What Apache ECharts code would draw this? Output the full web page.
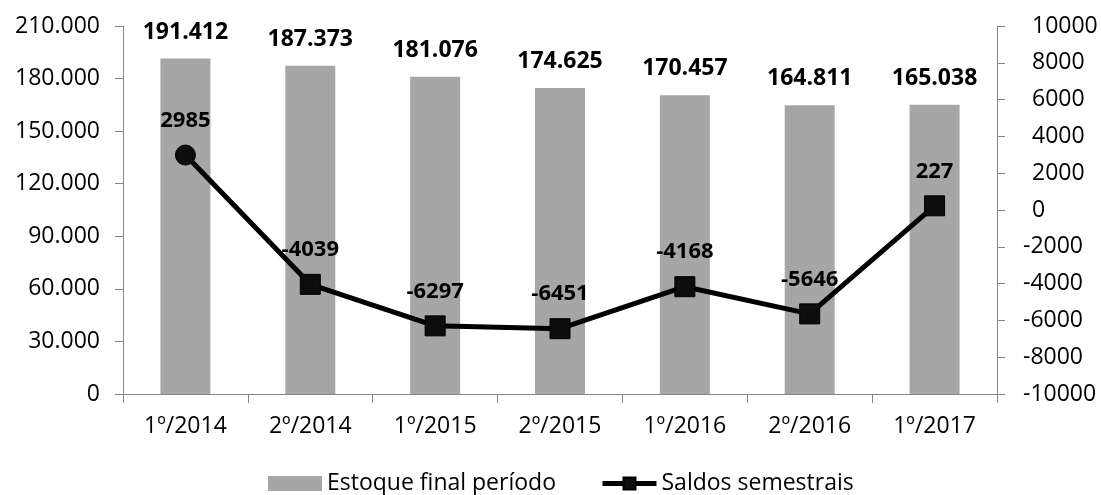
<!DOCTYPE html>
<html>
<head>
<meta charset="utf-8">
<script src="https://cdn.jsdelivr.net/npm/echarts@6/dist/echarts.min.js"></script>
<style>
html,body{margin:0;padding:0;background:#fff;}
#chart{width:1101px;height:495px;}
</style>
</head>
<body>
<div id="chart"></div>
<script>
var categories = ['1º/2014','2º/2014','1º/2015','2º/2015','1º/2016','2º/2016','1º/2017'];
var estoque = [191412, 187373, 181076, 174625, 170457, 164811, 165038];
var saldos = [2985, -4039, -6297, -6451, -4168, -5646, 227];
var leftTicks = {min: 0, max: 210000, interval: 30000};
var rightTicks = {min: -10000, max: 10000, interval: 2000};

function fmtDot(v){
  return String(Math.round(v)).replace(/\B(?=(\d{3})+(?!\d))/g, '.');
}
var FONT = 'Open Sans';
var chart = echarts.init(document.getElementById('chart'));
var lineData = saldos.map(function(v,i){
  var d = {value: v};
  if (i === 0) { d.symbol = 'circle'; d.symbolSize = 20; }
  return d;
});
chart.setOption({
  animation: false,
  textStyle: {fontFamily: FONT},
  grid: {left: 123, right: 104, top: 26, bottom: 101, containLabel: false},
  legend: {
    top: 472,
    left: 268,
    padding: 0,
    itemGap: 44,
    textStyle: {fontFamily: FONT, fontSize: 23, color: '#000'},
    data: [
      {name: 'Estoque final período', icon: 'rect', itemStyle: {color: '#a6a6a6'}},
      {name: 'Saldos semestrais', lineStyle: {width: 5, color: '#000'}, itemStyle: {color: '#0d0d0d'}}
    ],
    itemWidth: 54,
    itemHeight: 15
  },
  xAxis: {
    type: 'category',
    data: categories,
    axisLine: {lineStyle: {color: '#868686', width: 1}},
    axisTick: {show: true, length: 9, lineStyle: {color: '#868686'}},
    axisLabel: {color: '#000', fontSize: 23, fontFamily: FONT, margin: 21}
  },
  yAxis: [
    {
      type: 'value',
      min: leftTicks.min, max: leftTicks.max, interval: leftTicks.interval,
      axisLine: {show: true, lineStyle: {color: '#868686'}},
      axisTick: {show: true, length: 8, lineStyle: {color: '#868686'}},
      splitLine: {show: false},
      axisLabel: {color: '#000', fontSize: 23, fontFamily: FONT, margin: 23,
        formatter: function(v){ return fmtDot(v); }}
    },
    {
      type: 'value',
      position: 'right',
      min: rightTicks.min, max: rightTicks.max, interval: rightTicks.interval,
      axisLine: {show: true, lineStyle: {color: '#868686'}},
      axisTick: {show: true, length: 8, lineStyle: {color: '#868686'}},
      splitLine: {show: false},
      axisLabel: {color: '#000', fontSize: 23, fontFamily: FONT, margin: 26, align: 'left',
        formatter: function(v){ return v >= 0 ? '{p|}' + v : String(v); },
        rich: {p: {width: 9}}
      }
    }
  ],
  series: [
    {
      name: 'Estoque final período',
      type: 'bar',
      yAxisIndex: 0,
      data: estoque,
      barWidth: 50,
      itemStyle: {color: '#a6a6a6'},
      label: {show: true, position: 'top', distance: 15, color: '#000', fontWeight: 'bold',
        fontSize: 23, fontFamily: FONT, formatter: function(p){ return fmtDot(p.value); }}
    },
    {
      name: 'Saldos semestrais',
      type: 'line',
      yAxisIndex: 1,
      data: lineData,
      symbol: 'rect',
      symbolSize: 20,
      lineStyle: {color: '#000', width: 5},
      itemStyle: {color: '#0d0d0d', borderColor: '#000', borderWidth: 1},
      label: {show: true, position: 'top', distance: 13, color: '#000', fontWeight: 'bold',
        fontSize: 22, fontFamily: FONT}
    }
  ]
});
</script>
</body>
</html>
